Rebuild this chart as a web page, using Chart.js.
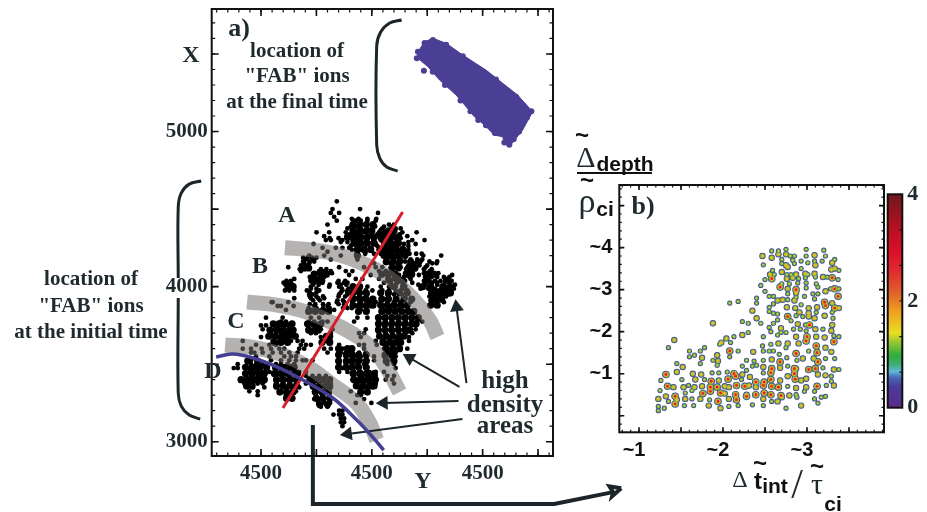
<!DOCTYPE html>
<html>
<head>
<meta charset="utf-8">
<title>FAB ions</title>
<script src="https://cdn.jsdelivr.net/npm/chart.js@4"></script>
<style>
  html, body { margin: 0; background: #fff; }
  #page { position: relative; width: 927px; height: 512px; overflow: hidden; }
  canvas { position: absolute; left: 0; top: 0; }
  .note { position: absolute; transform: translate(-50%, -50%); white-space: nowrap; color: #1f2a2e; line-height: 1; }
  .serif { font-family: "Liberation Serif", serif; font-weight: bold; }
  .plain { font-family: "Liberation Serif", serif; }
  .sans { font-family: "Liberation Sans", sans-serif; font-weight: bold; color: #111; }
  #rule { position: absolute; left: 577px; top: 172px; width: 75px; height: 2px; background: #111; }
</style>
</head>
<body>
<div id="page">
  <canvas id="panelA" width="927" height="512"></canvas>
  <canvas id="panelB" width="927" height="512"></canvas>
  <canvas id="colorBar" width="927" height="512"></canvas>
  <div id="rule"></div>
</div>
<script>
(function () {
  'use strict';

  // ---------- Panel a: tick labels ----------
  const aXTickValues = [4000, 5000, 6000];
  const aXTickLabels = ['4500', '4500', '4500'];
  const aYTickValues = [3000, 4000, 5000];
  const aYTickLabels = ['3000', '4000', '5000'];

  // ---------- Panel a: ions at the initial time, [X, [Y, Y, ...]] per row ----------
  const initialIonRows = [
    [4550, [4684]],
    [4500, [4645, 4894]],
    [4475, [4630, 4705, 5056]],
    [4450, [4660]],
    [4425, [4684, 4834, 4855, 4900, 4960, 5035]],
    [4400, [4600, 4825, 4885, 4945, 5005, 5020, 5155, 5200]],
    [4375, [4780, 4840, 4900, 4960, 5005, 5095, 5215, 5260]],
    [4350, [4501, 4615, 4765, 4870, 4930, 4990, 5065, 5125, 5155, 5200, 5275, 5404]],
    [4325, [4570, 5320]],
    [4300, [4585, 4630, 4735, 4825, 4885, 4945, 5020, 5080, 5170, 5230, 5365, 5476]],
    [4275, [4474, 4840, 4900, 4960, 5035, 5140, 5200, 5245, 5290, 5395]],
    [4250, [4555, 4675, 4735, 4795, 4885, 4930, 4990, 5080, 5110, 5170]],
    [4225, [4600, 4870, 4945, 5080, 5125, 5185, 5230, 5275, 5320]],
    [4200, [4435, 4570, 4720, 5110, 5155, 5200, 5260, 5305, 5464, 5626]],
    [4175, [4405, 4465, 4630, 4870, 5140, 5200, 5260, 5350, 5410, 5455]],
    [4150, [4390, 4435, 5020, 5170, 5230, 5380, 5425, 5545, 5584]],
    [4125, [4246, 4375, 4414, 4705, 4930, 5035, 5095, 5200, 5260, 5350, 5395, 5485]],
    [4100, [4360, 4525, 4570, 4630, 4765, 4825, 5065, 5125, 5185, 5320, 5365, 5524]],
    [4075, [4480, 4795, 4990, 5095, 5140, 5200, 5245, 5305, 5425, 5494, 5530, 5575, 5725]],
    [4050, [4300, 4450, 4495, 4540, 4855, 4915, 5065, 5140, 5200, 5260, 5350, 5500, 5680]],
    [4025, [4204, 4246, 4270, 4480, 4525, 4555, 4690, 4750, 4780, 5110, 5170, 5230, 5275, 5365, 5545, 5590]],
    [4000, [4264, 4285, 4450, 4615, 4705, 4840, 4900, 4960, 5080, 5155, 5215, 5275, 5440, 5515, 5635, 5665, 5710]],
    [3975, [4216, 4255, 4300, 4414, 4525, 4735, 4780, 4870, 4945, 5005, 5095, 5155, 5215, 5260, 5320, 5560, 5605, 5665, 5710]],
    [3950, [4435, 4465, 4705, 4780, 4825, 4885, 4960, 5080, 5140, 5200, 5275, 5650, 5695]],
    [3925, [4300, 4450, 4516, 4570, 4855, 4930, 5005, 5095, 5155, 5215, 5305, 5560, 5605]],
    [3900, [4096, 4105, 4246, 4684, 4750, 4825, 4900, 4975, 5035, 5080, 5140, 5200, 5260, 5350, 5545, 5590, 5650]],
    [3875, [4150, 4180, 4294, 4480, 4600, 4765, 4855, 4930, 4990, 5095, 5155, 5215, 5290, 5530]],
    [3850, [4225, 4450, 4510, 4570, 4660, 4900, 4960, 5110, 5170, 5245, 5320]],
    [3800, [4045, 4195, 4450, 4525, 4870, 4960, 5065, 5125, 5185, 5245, 5305, 5365, 5425]],
    [3775, [4180, 4225, 4435, 4480, 4555, 4600, 4840, 5065, 5125, 5185, 5245, 5305, 5365, 5410, 5455]],
    [3750, [4000, 4045, 4150, 4195, 4240, 4420, 4465, 4510, 5065, 5110, 5170, 5230, 5290, 5350, 5395]],
    [3725, [4015, 4120, 4165, 4210, 4255, 4435, 4480, 4540, 4645, 4945, 5050, 5110, 5170, 5230, 5290, 5350, 5395]],
    [3700, [4090, 4135, 4180, 4225, 4270, 4450, 4495, 4630, 4885, 4930, 5065, 5125, 5185, 5245, 5305, 5365]],
    [3675, [4000, 4075, 4120, 4165, 4210, 4255, 4300, 4540, 4585, 4615, 4900, 5095, 5155, 5215, 5275, 5335]],
    [3650, [3835, 4105, 4165, 4210, 4270, 4330, 4375, 4585, 4630, 5035, 5110, 5170, 5230, 5335]],
    [3625, [3955, 4075, 4135, 4360, 4405, 4450, 4705, 4885, 4930, 5044, 5125, 5185, 5245]],
    [3600, [3835, 3910, 4006, 4090, 4165, 4210, 4345, 4390, 4570, 4630, 4735, 4780, 4810, 4930, 5110, 5140, 5200, 5260, 5320]],
    [3575, [3910, 3940, 4015, 4105, 4180, 4255, 4330, 4600, 4720, 4765, 4825, 4885, 4945, 5155, 5215]],
    [3550, [3955, 4075, 4210, 4270, 4315, 4705, 4765, 4840, 4900, 4945, 5020, 5110, 5170, 5215]],
    [3525, [3910, 3970, 4090, 4180, 4255, 4315, 4375, 4405, 4465, 4840, 4900, 4960, 5020, 5125, 5185]],
    [3500, [3790, 3910, 3955, 4015, 4135, 4180, 4240, 4300, 4705, 4765, 4825, 4870, 4930, 5140, 5200]],
    [3475, [3754, 3790, 3895, 3940, 4000, 4045, 4120, 4165, 4225, 4285, 4735, 4780, 4825, 4885, 4945, 5215]],
    [3450, [3895, 3955, 4015, 4075, 4135, 4180, 4240, 4300, 4345, 4405, 4705, 4780, 4840, 4900, 4975, 5035, 5110]],
    [3425, [3865, 3910, 3970, 4030, 4135, 4195, 4255, 4330, 4405, 4465, 4525, 4585, 4840, 4915, 4990, 5035, 5140, 5200]],
    [3400, [3814, 3865, 3925, 3985, 4030, 4135, 4180, 4240, 4300, 4450, 4510, 4570, 4624, 4825, 4870, 4930, 4990, 5044, 5125, 5185]],
    [3375, [3850, 3910, 3970, 4015, 4135, 4195, 4255, 4315, 4405, 4465, 4525, 4585, 4630, 4870, 4930, 4990, 5035, 5200]],
    [3350, [3880, 3925, 4030, 4135, 4195, 4240, 4285, 4345, 4465, 4525, 4585, 4630, 4885, 4945, 5005]],
    [3325, [3895, 3970, 4165, 4225, 4285, 4315, 4480, 4540, 4600, 4810, 4915, 4960]],
    [3300, [3970, 4225, 4270, 4495, 4555, 4615, 4870, 4900]],
    [3275, [4480, 4525, 4570, 4615, 4930]],
    [3250, [4516, 4570, 4624, 4855, 4996]],
    [3225, [4540, 4600]],
    [3200, [4705, 4735]],
    [3175, [4654, 4705, 4735]],
    [3150, [4720, 4750]],
    [3125, [4720, 4750]],
    [3100, [4735]],
    // in-between rows of the loose upper part of the cloud
    [4437, [4820, 4880, 4960, 5040]],
    [4387, [4810, 4870, 5030, 5110, 5180]],
    [4337, [4800, 4860, 5000, 5050, 5100, 5180, 5250]],
    [4312, [4620, 4700, 4790, 4860, 5010, 5100, 5160, 5260]],
    [4287, [4720, 4780, 4870, 5010, 5100, 5160, 5220, 5330]],
    [4262, [4810, 4870, 5050, 5120, 5190, 5330]],
    [4237, [4820, 4900, 5060, 5130, 5260, 5330]],
    [4212, [4860, 4940, 5020, 5080, 5140, 5260, 5340, 5400, 5450]],
    [4187, [4380, 4420, 4460, 4500]],
    [4162, [4380, 4440, 4480, 5300, 5360, 5440, 5520, 5590]],
    [4137, [4360, 4420, 5330, 5380, 5430, 5500]],
    [4112, [4350, 4400, 4540, 4590, 5310, 5350, 5390, 5470, 5540]],
    [4087, [4510, 4550, 4600, 4640, 5300, 5350, 5470, 5520, 5600]],
    [4062, [4440, 4480, 4530, 4570, 5290, 5340, 5480, 5540, 5590, 5650, 5700]],
    [4037, [4230, 4270, 4450, 4510, 4560, 4700, 4760, 5260, 5300, 5470, 5520, 5570, 5620, 5660, 5720]],
    [4012, [4220, 4280, 4470, 4520, 4620, 4720, 4770, 5420, 5480, 5530, 5590, 5650, 5700, 5750]],
    [3987, [4230, 4290, 4450, 4500, 4730, 4790, 4850, 5280, 5440, 5510, 5570, 5630, 5690, 5740]],
    [3962, [4440, 4500, 4720, 4780, 5530, 5590, 5640, 5700]],
    [3937, [4440, 4500, 4560, 4700, 4760, 5520, 5570, 5620, 5670]],
    [3912, [4470, 4530, 4690, 4740, 5530, 5580, 5630]],
    [3887, [4440, 4490, 4560, 4610, 4700, 4750]],
    [3862, [4430, 4500, 4560, 4620, 4740, 4780, 4820]]
  ];

  // where the ions pile up into solid patches, drawn with a larger dot
  const ionPatchRows = [
    [4400, [4830, 4890, 4950, 5010]],
    [4360, [4830, 4890, 4950, 5000, 5090, 5150, 5200]],
    [4320, [4780, 4840, 4900, 4960, 5020, 5080, 5140, 5200, 5240]],
    [4280, [4840, 4900, 4960, 5020, 5120, 5170, 5240]],
    [4240, [4870, 4930, 4990, 5100, 5160, 5220, 5280]],
    [4200, [4870, 5110, 5170, 5230, 5300]],
    [4160, [5130, 5190, 5250, 5350, 5420]],
    [4120, [4375, 4430, 5180, 5240, 5330, 5390]],
    [4080, [4480, 4540, 4590, 5090, 5150, 5210, 5320, 5360, 5500, 5560]],
    [4040, [4460, 4520, 5160, 5230, 5500, 5680]],
    [4000, [4250, 4290, 4830, 4890, 5200, 5290, 5460, 5530, 5640, 5710]],
    [3960, [4830, 4890, 4950, 5080, 5150, 5250, 5320, 5540, 5600, 5660, 5710]],
    [3920, [4830, 4890, 4950, 5010, 5090, 5150, 5220, 5290, 5360, 5560, 5630]],
    [3880, [4830, 4890, 4950, 5010, 5080, 5140, 5200, 5260, 5320, 5530, 5590]],
    [3840, [4430, 4490, 4550, 4610, 4880, 4950, 5090, 5150, 5210, 5270, 5330, 5380]],
    [3800, [5060, 5120, 5180, 5240, 5300, 5360, 5420]],
    [3760, [4110, 4160, 4220, 4280, 4420, 4480, 4540, 5060, 5120, 5180, 5240, 5300, 5360, 5400]],
    [3720, [4080, 4140, 4200, 4260, 4290, 4430, 4490, 4520, 5060, 5120, 5180, 5240, 5300, 5340]],
    [3680, [4070, 4130, 4190, 4250, 4310, 4590, 4620, 5070, 5130, 5190, 5250, 5290]],
    [3640, [4120, 4180, 4240, 4550, 4620, 5100, 5160, 5220, 5260]],
    [3600, [4700, 4780, 4820, 5130, 5190, 5250]],
    [3560, [4700, 4770, 4820, 4880, 4950, 5120, 5190]],
    [3520, [3880, 3970, 4700, 4770, 4820, 4880, 4950, 5130, 5200]],
    [3480, [3860, 3920, 3980, 4050, 4140, 4200, 4270, 4300, 4700, 4770, 4820, 4880, 4950]],
    [3440, [3860, 3920, 3980, 4030, 4120, 4180, 4240, 4300, 4330, 4830, 4890, 4950, 5020]],
    [3400, [3820, 3880, 3940, 4000, 4030, 4140, 4200, 4260, 4320, 4440, 4500, 4560, 4620, 4840, 4900, 4960, 5030]],
    [3360, [3870, 3920, 4140, 4200, 4260, 4320, 4470, 4530, 4590, 4620, 4860, 4920, 4980, 5020]],
    [3320, [4170, 4230, 4290, 4490, 4550, 4610, 4900, 4960]],
    [3280, [4230, 4280, 4500, 4560, 4620]],
    [3240, [4530, 4600]]
  ];

  // ---------- Panel a: ions at the final time (outline and loose ions) ----------
  const finalIonOutline = [
    [5416, 5514], [5476, 5579], [5551, 5601], [5671, 5569], [5821, 5493], [6031, 5396], [6181, 5311],
    [6316, 5235], [6451, 5128], [6361, 5010], [6241, 4902], [6196, 4924], [6181, 4966], [6106, 4977],
    [6016, 5042], [5926, 5095], [5851, 5160], [5761, 5235], [5611, 5332], [5506, 5418], [5416, 5472],
    [5416, 5514]
  ];
  const finalIonLoose = [
    [5470, 5392], [5416, 5514], [5406, 5472], [5476, 5570], [5551, 5590], [5671, 5560], [5821, 5485],
    [5550, 5385], [5660, 5300], [5800, 5200], [5890, 5130], [5960, 5075], [6030, 5040], [6110, 4990],
    [6196, 4930], [6241, 4915], [6280, 4950], [6330, 5000], [6400, 5090], [6440, 5130], [6300, 5225], [6120, 5335]
  ];

  // ---------- Panel a: region arcs, cut line, brackets, arrows ----------
  const bandA = [[4216, 4251], [4468, 4236], [4711, 4204], [4954, 4139], [5161, 4055], [5368, 3926], [5521, 3785], [5593, 3675]];
  const bandB = [[3874, 3901], [4144, 3881], [4414, 3836], [4648, 3765], [4891, 3668], [5044, 3572], [5161, 3443], [5251, 3320]];
  const bandC = [[3676, 3623], [3901, 3611], [4198, 3559], [4441, 3475], [4648, 3366], [4864, 3249], [4981, 3120], [5044, 3011]];
  const arcD = [[3595, 3546], [3739, 3565], [3928, 3540], [4144, 3482], [4378, 3398], [4648, 3282], [4864, 3140], [5008, 3030], [5107, 2946]];
  const cutLine = [[4198, 3217], [5278, 4481]];
  const finalBracket = [[5269, 5719], [5161, 5700], [5080, 5642], [5044, 5552], [5044, 4913], [5071, 4829], [5134, 4771], [5233, 4745]];
  const initialBracketTop = [[3460, 4681], [3352, 4661], [3280, 4603], [3253, 4513], [3253, 4055]];
  const initialBracketBottom = [[3451, 3146], [3352, 3172], [3280, 3230], [3253, 3314], [3253, 3926]];
  // arrows run tip first
  const arrows = [
    [[5764, 3868], [5854, 3378]],
    [[5341, 3540], [5791, 3353]],
    [[5107, 3250], [5782, 3262]],
    [[4783, 3050], [5818, 3146]]
  ];
  const connector = [[7177, 2675], [6646, 2598], [4468, 2598], [4468, 3108]];
  const connectorHead = [[7250, 2700], [7145, 2712], [7177, 2675], [7168, 2648], [7250, 2700]];

  // ---------- Panel b: tick labels ----------
  const bXTickValues = [1, 2, 3];
  const bXTickLabels = ['~1', '~2', '~3'];
  const bYTickValues = [1, 2, 3, 4];
  const bYTickLabels = ['~1', '~2', '~3', '~4'];

  // ---------- Panel b: spots by peak level on the colour bar ----------
  const spotsLow = [
    [2.99,3.96],[2.58,3.92],[2.66,3.92],[2.75,3.96],[3.20,3.94],[2.80,3.80],[2.85,3.80],[2.99,3.80],[3.22,3.80],
    [2.70,3.72],[2.83,3.70],[2.93,3.68],[3.01,3.64],[3.09,3.68],[3.18,3.68],[3.33,3.72],[2.48,3.59],[2.70,3.62],
    [2.85,3.62],[2.93,3.50],[3.38,3.46],[2.59,3.46],[2.61,3.36],[2.76,3.36],[2.81,3.36],[3.01,3.36],[2.50,3.24],
    [2.90,3.26],[2.98,3.28],[3.10,3.30],[3.24,3.30],[3.37,3.24],[2.70,3.14],[2.45,3.10],[2.79,3.14],[2.89,3.16],
    [2.99,3.16],[3.11,3.14],[2.99,3.04],[3.13,3.06],[3.28,3.02],[3.38,3.02],[2.50,2.96],[2.77,2.90],[3.13,2.90],
    [3.07,2.90],[2.55,2.84],[2.60,2.84],[2.40,2.80],[2.87,2.82],[2.97,2.84],[3.09,2.78],[2.77,2.76],[2.08,2.68],
    [2.18,2.72],[2.40,2.68],[2.60,2.66],[2.93,2.64],[2.55,2.58],[2.55,2.48],[2.60,2.44],[2.65,2.42],[3.11,2.46],
    [3.30,2.46],[2.87,2.38],[2.95,2.36],[3.31,2.32],[2.23,2.24],[2.30,2.20],[2.45,2.20],[2.65,2.28],[2.60,2.20],
    [2.81,2.26],[2.98,2.16],[2.55,2.10],[2.84,2.06],[2.92,2.06],[3.19,2.06],[2.99,2.02],[2.30,1.98],[2.57,2.00],
    [2.65,1.92],[2.75,1.98],[3.32,1.90],[3.38,1.88],[2.69,1.98],[2.13,1.88],[2.48,1.88],[2.57,1.70],[2.47,1.66],
    [2.09,1.74],[1.96,1.70],[1.35,1.62],[1.78,1.62],[1.73,1.54],[1.60,1.54],[2.18,1.54],[2.48,1.54],[2.55,1.54],
    [2.60,1.54],[2.75,1.62],[3.02,1.54],[2.67,1.46],[2.76,1.38],[1.66,1.44],[1.60,1.40],[2.08,1.40],[2.88,1.32],
    [3.22,1.36],[3.33,1.36],[1.73,1.24],[1.88,1.32],[2.28,1.32],[2.37,1.30],[2.48,1.32],[1.45,1.24],[1.93,1.20],
    [2.23,1.18],[2.35,1.18],[2.40,1.20],[2.77,1.18],[2.28,1.08],[3.19,1.14],[3.38,1.10],[1.87,1.02],[1.95,1.02],
    [2.05,1.04],[2.48,1.02],[3.29,0.94],[1.26,0.84],[1.51,0.86],[1.78,0.86],[2.22,0.86],[3.29,0.82],[1.59,0.72],
    [2.77,0.70],[3.23,0.72],[1.25,0.60],[1.55,0.54],[1.63,0.60],[2.87,0.50],[2.97,0.58],[3.09,0.58],[3.22,0.46],
    [3.17,0.44],[1.35,0.34],[1.63,0.40],[1.84,0.38],[2.58,0.34],[2.88,0.44],[3.09,0.40],[3.13,0.30],[1.23,0.22],
    [1.23,0.12],[1.30,0.18],[1.54,0.24],[1.65,0.24],[2.07,0.22],[2.18,0.24],[2.35,0.26],[2.48,0.24],[2.75,0.18]
  ];
  const spotsMid = [
    [2.47,3.80],[2.75,3.84],[2.66,3.84],[3.09,3.82],[2.58,3.76],[3.30,3.64],[2.75,3.58],[3.10,3.58],[2.77,3.54],
    [3.29,3.48],[3.33,3.50],[2.70,3.42],[2.56,3.36],[2.87,3.36],[2.98,3.38],[3.09,3.38],[2.76,3.26],[2.83,3.28],
    [3.19,3.30],[2.77,3.02],[3.22,2.96],[2.87,2.92],[2.65,2.74],[2.71,2.76],[2.85,2.74],[3.30,2.68],[2.76,2.58],
    [2.86,2.56],[3.02,2.56],[3.12,2.58],[3.38,2.56],[2.35,2.50],[2.91,2.46],[3.02,2.44],[3.02,2.36],[3.09,2.32],
    [3.21,2.38],[2.40,2.32],[1.88,2.20],[2.89,2.18],[3.30,2.16],[2.69,2.08],[3.10,2.06],[3.29,2.02],[2.23,1.92],
    [2.87,1.88],[3.11,1.88],[3.21,1.86],[2.04,1.84],[1.98,1.74],[1.42,1.80],[2.90,1.72],[2.77,1.72],[2.66,1.72],
    [2.36,1.52],[3.22,1.62],[3.29,1.52],[1.93,1.44],[2.95,1.36],[3.08,1.36],[1.75,1.38],[2.58,1.34],[1.94,1.30],
    [1.52,1.16],[1.45,1.04],[2.48,1.16],[2.68,1.14],[2.87,1.12],[3.32,1.10],[1.64,1.00],[1.74,0.98],[2.23,0.98],
    [2.32,0.92],[2.68,0.84],[2.77,0.94],[2.99,0.88],[3.13,0.98],[3.22,0.96],[1.67,0.86],[1.95,0.84],[2.93,0.84],
    [1.41,0.68],[1.53,0.68],[1.66,0.68],[1.75,0.70],[2.02,0.70],[2.07,0.68],[2.31,0.72],[2.39,0.68],[2.87,0.66],
    [2.99,0.68],[3.32,0.72],[1.32,0.46],[2.02,0.53],[2.28,0.50],[2.79,0.48],[1.23,0.40],[1.45,0.38],[1.55,0.40],
    [1.73,0.40],[2.07,0.40],[2.48,0.40],[2.65,0.34],[2.70,0.44],[1.83,0.24],[1.97,0.18],[2.93,0.24]
  ];
  const spotsHigh = [
    [2.58,3.26],[3.30,3.28],[2.68,3.06],[2.87,3.00],[3.33,3.02],[3.37,2.84],[3.21,2.70],[3.33,2.56],[3.22,2.62],
    [2.77,2.36],[3.03,2.16],[3.00,1.88],[2.99,1.78],[3.32,1.76],[2.08,1.54],[2.87,1.48],[3.11,1.66],[3.12,1.50],
    [2.68,1.28],[3.13,1.28],[2.58,1.12],[2.85,1.12],[3.02,1.10],[3.10,1.12],[1.32,0.98],[2.13,1.00],[2.57,1.02],
    [2.85,1.00],[1.86,0.82],[2.06,0.87],[2.15,0.94],[2.39,0.80],[2.49,0.80],[2.57,0.86],[2.86,0.87],[1.34,0.70],
    [1.85,0.68],[1.93,0.68],[2.16,0.72],[2.26,0.70],[2.48,0.72],[2.58,0.70],[2.66,0.68],[3.12,0.70],[1.43,0.46],
    [1.76,0.53],[1.85,0.58],[1.97,0.54],[2.15,0.50],[2.39,0.50],[2.49,0.54],[2.57,0.50],[2.69,0.48],[1.94,0.34],
    [2.16,0.38],[2.28,0.46],[1.43,0.28]
  ];

  // ---------- Colour bar ----------
  const barRange = [0, 4];
  const barTickValues = [0, 2, 4];
  const barStops = [
    [0, '#5b2a86'], [0.1, '#4a3c9c'], [0.14, '#4666b4'], [0.17, '#60b8d8'], [0.2, '#3fae78'], [0.245, '#2fae3e'],
    [0.31, '#9ac832'], [0.35, '#e8e020'], [0.45, '#f0a020'], [0.54, '#e0602a'], [0.64, '#e02a30'], [0.73, '#dd0f2a'],
    [0.855, '#b01020'], [1, '#701820']
  ];

  // ---------- Free text ----------
  const notes = [
    ['a)', 239, 28, 26, 'serif'], ['X', 191, 54, 24, 'serif'], ['Y', 423, 480, 24, 'serif'],
    ['location of', 297, 50, 21, 'serif'], ['"FAB" ions', 297, 75, 21, 'serif'], ['at the final time', 297, 101, 21, 'serif'],
    ['location of', 91, 278, 21, 'serif'], ['"FAB" ions', 91, 305, 21, 'serif'], ['at the initial time', 91, 331, 21, 'serif'],
    ['A', 287, 214, 24, 'serif'], ['B', 260, 265, 24, 'serif'], ['C', 236, 320, 24, 'serif'], ['D', 213, 370, 24, 'serif'],
    ['high', 505, 379, 25, 'serif'], ['density', 505, 403, 25, 'serif'], ['areas', 505, 424, 25, 'serif'],
    ['b)', 643, 206, 26, 'serif'],
    ['~', 582, 135, 24, 'sans'], ['Δ', 586, 157, 30, 'plain'], ['depth', 625, 163, 21, 'sans'],
    ['~', 587, 180, 24, 'sans'], ['ρ', 587, 201, 34, 'plain'], ['ci', 605, 208, 21, 'sans'],
    ['Δ', 740, 479, 24, 'plain'], ['t', 758, 481, 24, 'sans'], ['~', 760, 463, 24, 'sans'], ['int', 775, 485, 21, 'sans'],
    ['/', 797, 484, 42, 'plain'], ['τ', 817, 484, 30, 'plain'], ['~', 817, 466, 24, 'sans'], ['ci', 833, 503, 21, 'sans']
  ];

  // ---------- Utilities ----------
  function range(start, stop, step) {
    const out = [];
    for (let v = start; v <= stop + 1e-9; v += step) out.push(v);
    return out;
  }

  function toPoints(pairs) {
    return pairs.map(([x, y]) => ({ x, y }));
  }

  function rowsToPoints(rows) {
    return rows.flatMap(([y, xs]) => xs.map((x) => ({ x, y })));
  }

  function curve(pairs, color, width, extra) {
    return Object.assign({
      data: toPoints(pairs), showLine: true, borderColor: color, backgroundColor: color, borderWidth: width,
      pointRadius: 0, tension: 0.35, clip: false, borderCapStyle: 'butt'
    }, extra || {});
  }

  function arrow(pairs, width, size) {
    return curve(pairs, '#1c2529', width, {
      tension: 0,
      pointStyle: 'triangle',
      pointRadius: (c) => (c.dataIndex === 0 ? size : 0),
      pointRotation: (c) => {
        const sx = c.chart.scales.x;
        const sy = c.chart.scales.y;
        const dx = sx.getPixelForValue(pairs[0][0]) - sx.getPixelForValue(pairs[1][0]);
        const dy = sy.getPixelForValue(pairs[0][1]) - sy.getPixelForValue(pairs[1][1]);
        return Math.atan2(dy, dx) * 180 / Math.PI + 90;
      }
    });
  }

  function spotLayer(points, radius, color) {
    return { data: toPoints(points), pointRadius: radius, pointBackgroundColor: color, pointBorderWidth: 0, pointStyle: 'circle' };
  }

  // Inward ticks on all four sides and the frame, placed through the chart's own scales
  function framePlugin(cfg) {
    return {
      id: 'frame',
      afterDatasetsDraw(chart) {
        const { ctx, chartArea: a, scales } = chart;
        ctx.save();
        ctx.strokeStyle = '#111';
        ctx.lineWidth = cfg.lineWidth;
        ctx.strokeRect(a.left, a.top, a.right - a.left, a.bottom - a.top);
        const tick = (vals, len) => {
          ctx.beginPath();
          (vals.x || []).forEach((v) => {
            const p = scales.x.getPixelForValue(v);
            if (p < a.left || p > a.right) return;
            ctx.moveTo(p, a.bottom); ctx.lineTo(p, a.bottom - len);
            ctx.moveTo(p, a.top); ctx.lineTo(p, a.top + len);
          });
          (vals.y || []).forEach((v) => {
            const p = scales.y.getPixelForValue(v);
            if (p < a.top || p > a.bottom) return;
            if (cfg.leftTicks !== false) { ctx.moveTo(a.left, p); ctx.lineTo(a.left + len, p); }
            ctx.moveTo(a.right, p); ctx.lineTo(a.right - len, p);
          });
          ctx.stroke();
        };
        ctx.lineWidth = cfg.minorWidth;
        tick(cfg.minor, cfg.minorLen);
        ctx.lineWidth = cfg.majorWidth;
        tick(cfg.major, cfg.majorLen);
        ctx.restore();
      }
    };
  }

  // keeps tick labels from pushing the plot area around
  function pinSize(s, key, size) {
    s[key] = size;
    s.paddingTop = s.paddingBottom = s.paddingLeft = s.paddingRight = 0;
  }

  function fixedScale(min, max, values, labels, font, tickOpts, extra) {
    return Object.assign({
      type: 'linear', min, max,
      grid: { display: false, drawTicks: false },
      border: { display: false },
      afterBuildTicks: (s) => { s.ticks = values.map((value) => ({ value })); },
      ticks: Object.assign({
        autoSkip: false, maxRotation: 0, font, color: '#1f2a2e',
        callback: (v) => labels[values.indexOf(v)]
      }, tickOpts)
    }, extra || {});
  }

  const baseOptions = {
    responsive: false,
    animation: false,
    events: [],
    devicePixelRatio: 1,
    plugins: { legend: { display: false }, tooltip: { enabled: false } }
  };

  const serifBold = (size) => ({ family: 'Liberation Serif', weight: 'bold', size });
  const sansBold = (size) => ({ family: 'Liberation Sans', weight: 'bold', size });

  // ---------- Panel a ----------
  new Chart(document.getElementById('panelA'), {
    type: 'scatter',
    data: {
      // first dataset is drawn on top
      datasets: [
        curve(arcD, '#453f94', 3.5),
        curve(cutLine, '#d8202a', 3, { tension: 0 }),
        ...arrows.map((a) => arrow(a, 2, 6)),
        curve(connector, '#1c2529', 4, { tension: 0 }),
        curve(connectorHead, '#1c2529', 4, { tension: 0 }),
        curve(finalBracket, '#1c2529', 3),
        curve(initialBracketTop, '#1c2529', 3),
        curve(initialBracketBottom, '#1c2529', 3),
        curve(bandA, 'rgba(118,112,112,0.54)', 15),
        curve(bandB, 'rgba(118,112,112,0.54)', 15),
        curve(bandC, 'rgba(118,112,112,0.54)', 15),
        { data: rowsToPoints(initialIonRows), pointRadius: 2.4, pointBackgroundColor: '#000', pointBorderWidth: 0 },
        { data: rowsToPoints(ionPatchRows), pointRadius: 3.6, pointBackgroundColor: '#000', pointBorderWidth: 0 },
        { data: toPoints(finalIonLoose), pointRadius: 3, pointBackgroundColor: '#4a3f95', pointBorderWidth: 0 },
        curve(finalIonOutline, '#4a3f95', 1, { tension: 0, fill: 'shape', backgroundColor: '#4a3f95' })
      ]
    },
    options: Object.assign({}, baseOptions, {
      layout: { padding: { left: 151.7, right: 374, top: 9, bottom: 22 } },
      scales: {
        x: fixedScale(3555, 6635, aXTickValues, aXTickLabels, serifBold(21), { padding: 5 }, {
          afterFit: (s) => pinSize(s, 'height', 34)
        }),
        y: fixedScale(2908, 5790, aYTickValues, aYTickLabels, serifBold(21), { padding: 4 }, {
          afterFit: (s) => pinSize(s, 'width', 60)
        })
      }
    }),
    plugins: [framePlugin({
      lineWidth: 2, majorWidth: 1.6, minorWidth: 1.2, majorLen: 7, minorLen: 3.5,
      major: { x: range(4000, 6500, 500), y: range(3000, 5500, 500) },
      minor: { x: range(3600, 6600, 100), y: range(3000, 5700, 100) }
    })]
  });

  // ---------- Panel b ----------
  new Chart(document.getElementById('panelB'), {
    type: 'scatter',
    data: {
      datasets: [
        spotLayer(spotsHigh, 1.4, '#e0202a'),
        spotLayer(spotsHigh, 2.4, '#f0a820'),
        spotLayer(spotsMid, 1.7, '#eeb820'),
        spotLayer(spotsLow, 0.9, '#d8d830'),
        spotLayer(spotsHigh, 3.1, '#62b448'),
        spotLayer(spotsMid, 2.5, '#62b448'),
        spotLayer(spotsLow, 1.9, '#62b448'),
        spotLayer(spotsHigh, 3.8, '#453a96'),
        spotLayer(spotsMid, 3.2, '#453a96'),
        spotLayer(spotsLow, 2.6, '#453a96')
      ]
    },
    options: Object.assign({}, baseOptions, {
      layout: { padding: { left: 569.3, right: 43, top: 185, bottom: 49.7 } },
      scales: {
        x: fixedScale(0.765, 3.917, bXTickValues, bXTickLabels, sansBold(20), { labelOffset: -5, padding: 6, color: '#111' }, {
          afterFit: (s) => pinSize(s, 'height', 30)
        }),
        y: fixedScale(-0.395, 5.49, bYTickValues, bYTickLabels, sansBold(20), { padding: 7, color: '#111' }, {
          afterFit: (s) => pinSize(s, 'width', 50)
        })
      }
    }),
    plugins: [framePlugin({
      lineWidth: 2, majorWidth: 1.6, minorWidth: 1.2, majorLen: 5, minorLen: 2.5,
      major: { x: range(1, 3.5, 0.5), y: range(0, 5, 1) },
      minor: { x: range(0.8, 3.9, 0.1), y: range(-0.2, 5.4, 0.2) }
    })]
  });

  // ---------- Colour bar ----------
  new Chart(document.getElementById('colorBar'), {
    type: 'bar',
    data: {
      labels: [''],
      datasets: [{
        data: [barRange],
        barPercentage: 1,
        categoryPercentage: 1,
        backgroundColor: (c) => {
          const a = c.chart.chartArea;
          if (!a) return '#888';
          const g = c.chart.ctx.createLinearGradient(0, a.bottom, 0, a.top);
          barStops.forEach(([at, color]) => g.addColorStop(at, color));
          return g;
        }
      }]
    },
    options: Object.assign({}, baseOptions, {
      layout: { padding: { left: 887.7, right: 0.7, top: 194.3, bottom: 104.3 } },
      scales: {
        x: { display: false },
        y: fixedScale(0, 4, barTickValues, ['0', '2', '4'], serifBold(22), { padding: 5 }, {
          position: 'right',
          afterFit: (s) => pinSize(s, 'width', 24)
        })
      }
    }),
    plugins: [framePlugin({
      lineWidth: 2, majorWidth: 1.2, minorWidth: 1.2, majorLen: 3, minorLen: 3, leftTicks: false,
      major: { y: range(2 / 3, 4, 2 / 3) },
      minor: {}
    })]
  });

  // ---------- Text ----------
  const page = document.getElementById('page');
  notes.forEach(([text, x, y, size, kind]) => {
    const el = document.createElement('div');
    el.className = 'note ' + kind;
    el.textContent = text;
    el.style.left = x + 'px';
    el.style.top = y + 'px';
    el.style.fontSize = size + 'px';
    page.appendChild(el);
  });
})();
</script>
</body>
</html>
